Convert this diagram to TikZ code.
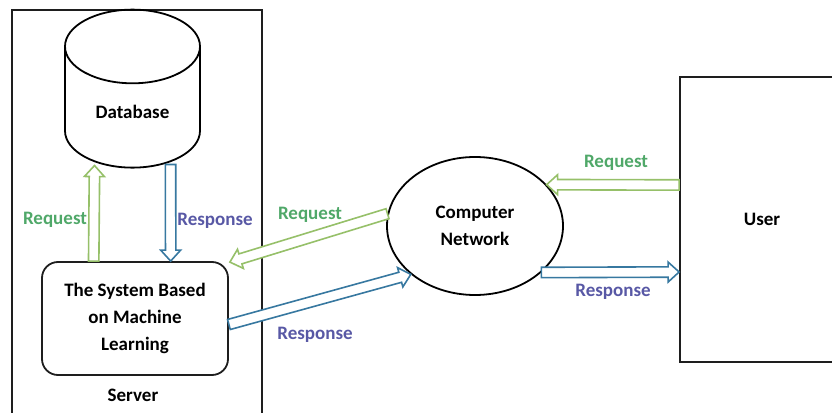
\documentclass[tikz,border=0pt]{standalone}
\usepackage{fontspec}
\setmainfont{Carlito}
\usetikzlibrary{shapes.geometric,calc}
\definecolor{reqline}{RGB}{150,192,105}
\definecolor{respline}{RGB}{55,120,160}
\definecolor{reqtext}{RGB}{80,168,105}
\definecolor{resptext}{RGB}{88,88,165}
\definecolor{edge}{RGB}{30,30,30}
\tikzset{
  frame/.style    = {shape=rectangle, draw=edge, line width=1.8pt, inner sep=0pt},
  proc/.style     = {frame, rounded corners=16pt, align=center},
  store/.style    = {shape=cylinder, shape border rotate=90, aspect=1.0,
                     draw=black, line width=1.8pt, inner sep=0pt},
  cloud/.style    = {shape=ellipse, draw=black, line width=1.8pt, align=center, inner sep=0pt},
  % hollow block arrow from start to target
  flow/.style     = {draw=#1, fill=white, line width=1.6pt, line join=miter,
                     to path={let \p1=(\tikztostart), \p2=(\tikztotarget),
                       \n1={atan2(\y2-\y1,\x2-\x1)}, \n2={veclen(\x2-\x1,\y2-\y1)} in
                       {[shift={(\p1)}, rotate=\n1]
                        (0pt,-5.2pt) -- ({\n2-11pt},-5.2pt) -- ({\n2-11pt},-10pt)
                        -- (\n2,0pt) -- ({\n2-11pt},10pt) -- ({\n2-11pt},5.2pt)
                        -- (0pt,5.2pt) -- cycle}}},
  reqarrow/.style = {flow=reqline},
  resparrow/.style= {flow=respline},
  reqlbl/.style   = {text=reqtext},
  resplbl/.style  = {text=resptext}
}

\begin{document}
\begin{tikzpicture}
  [
    x                 = 1pt,
    y                 = 1pt,
    every node/.style = {font=\fontsize{19}{27}\selectfont\bfseries}
  ]
  \clip (0,0) rectangle (832,412);
  % boxes
  \node [frame, minimum width=250, minimum height=410] (server) at (137,197) {};
  \node at (133,17) {Server};
  \node [store, minimum width=135, minimum height=158] (db) at (132.5,304.5)
        {\raisebox{-11pt}[0pt][0pt]{Database}};
  \node [proc, minimum width=186, minimum height=113] (system) at (135,93.5)
        {The System Based\\on Machine\\Learning};
  \node [cloud, minimum width=176, minimum height=138] (net) at (475,186) {Computer\\Network};
  \node [frame, minimum width=164, minimum height=285] (user) at (762,192.5) {User};

  % inside the server
  \draw [reqarrow]  ($(system.north west)!0.28!(system.north east)$) to ($(db.south)+(-38,3)$);
  \draw [resparrow] ($(db.south)+(38,4)$) to ($(system.north west)!0.69!(system.north east)$);
  \node [reqlbl]  at (55,192)  {Request};
  \node [resplbl] at (215,191) {Response};

  % server <-> network
  \draw [reqarrow]  (net.172) to ([xshift=1pt,yshift=-1pt]system.north east);
  \draw [resparrow] ([yshift=-6pt]system.east) to (net.217);
  \node [reqlbl]  at (310,197) {Request};
  \node [resplbl] at (315,77)  {Response};

  % network <-> user
  \draw [reqarrow]  ([yshift=34.5pt]user.west) to (net.30);
  \draw [resparrow] (net.-35) to ([yshift=-52.5pt]user.west);
  \node [reqlbl]  at (616,249) {Request};
  \node [resplbl] at (613,120) {Response};
\end{tikzpicture}
\end{document}
